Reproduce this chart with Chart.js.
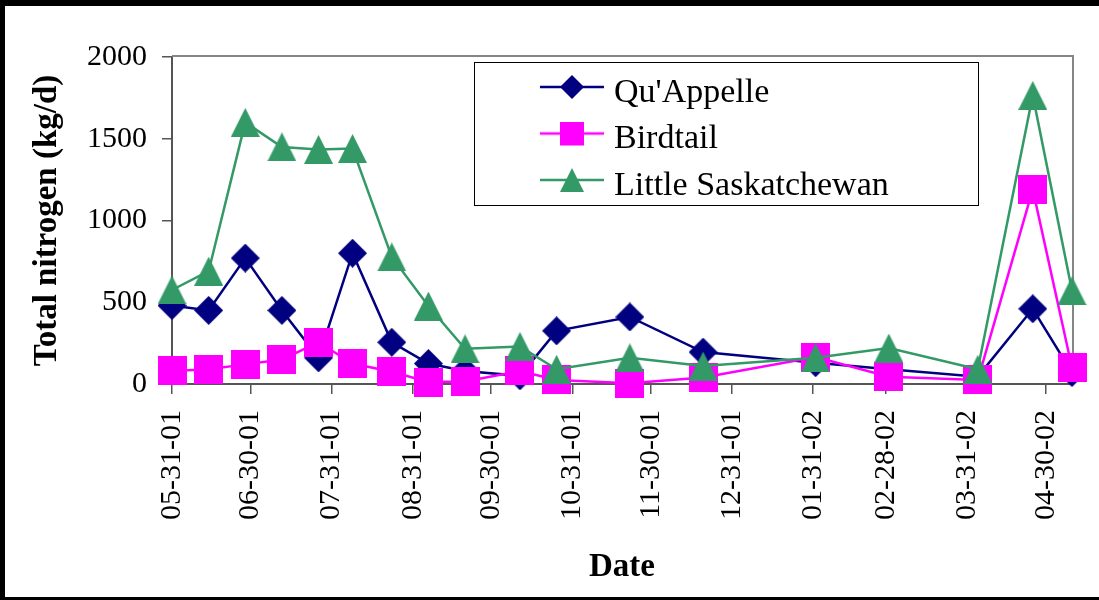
<!DOCTYPE html>
<html>
<head>
<meta charset="utf-8">
<script src="https://cdn.jsdelivr.net/npm/chart.js@4.4.0/dist/chart.umd.min.js"></script>
<style>
html, body { margin: 0; padding: 0; background: #fff; }
#wrap { position: relative; width: 1099px; height: 600px; }
#frame { position: absolute; left: 0; top: 0; width: 1099px; height: 600px; box-sizing: border-box;
         border-style: solid; border-color: #000; border-width: 6px 0 3px 5px; pointer-events: none; }
</style>
</head>
<body>
<div id="wrap">
  <canvas id="chart" width="1099" height="600"></canvas>
  <div id="frame"></div>
</div>
<script>
// sampling dates (mm-dd-yy)
var sampleDates = ["05-31-01","06-14-01","06-28-01","07-12-01","07-26-01","08-08-01","08-23-01",
                   "09-06-01","09-20-01","10-11-01","10-25-01","11-22-01","12-20-01","02-01-02",
                   "03-01-02","04-04-02","04-25-02","05-10-02"];

// total nitrogen, kg/d
var quAppelle  = [480, 450, 770, 450, 160, 800, 255, 125, 80, 50, 325, 410, 195, 130, 90, 45, 460, 70];
var birdtail   = [80, 90, 120, 150, 255, 125, 75, 12, 15, 80, 25, 5, 40, 165, 45, 25, 1190, 100];
var littleSask = [575, 690, 1600, 1450, 1435, 1440, 777, 477, 215, 230, 90, 160, 110, 160, 220, 90, 1765, 570];

var seriesNames = ["Qu'Appelle", "Birdtail", "Little Saskatchewan"];

// date axis tick labels (month ends)
var tickLabels = ["05-31-01","06-30-01","07-31-01","08-31-01","09-30-01","10-31-01","11-30-01",
                  "12-31-01","01-31-02","02-28-02","03-31-02","04-30-02"];

var yTicks = [0, 500, 1000, 1500, 2000];

var SERIF = "'Liberation Serif', 'Times New Roman', serif";

function dayNumber(s){
	var p = s.split("-");
	return Date.UTC(2000 + parseInt(p[2], 10), parseInt(p[0], 10) - 1, parseInt(p[1], 10)) / 86400000;
}
var firstDay = dayNumber(sampleDates[0]);
function dayOf(s){ return dayNumber(s) - firstDay; }

var tickDays = tickLabels.map(dayOf);

function points(values){
	var out = [];
	for (var i = 0; i < values.length; i++) {
		out.push({x: dayOf(sampleDates[i]), y: values[i]});
	}
	return out;
}

// marker images; for the legend a line runs through the marker and
// extra room below lifts the marker a little above the text middle
function makeMarker(shape, color, size, lineLen, below){
	var w = Math.max(size, lineLen || 0);
	var c = document.createElement("canvas");
	c.width = w; c.height = size + (below || 0);
	var g = c.getContext("2d");
	var cx = w / 2, cy = size / 2, h = size / 2;
	if (lineLen) {
		g.strokeStyle = color; g.lineWidth = 2.5;
		g.beginPath(); g.moveTo(0, cy); g.lineTo(w, cy); g.stroke();
	}
	g.fillStyle = color;
	g.beginPath();
	if (shape == "diamond") {
		g.moveTo(cx, 0); g.lineTo(cx + h, cy); g.lineTo(cx, size); g.lineTo(cx - h, cy);
	} else if (shape == "square") {
		g.rect(cx - h, 0, size, size);
	} else {
		g.moveTo(cx, 0); g.lineTo(cx + h, size); g.lineTo(cx - h, size);
	}
	g.closePath();
	g.fill();
	return c;
}

var colors = ["#000080", "#FF00FF", "#339966"];
var shapes = ["diamond", "square", "triangle"];
var plotMarks = [], legendMarks = [];
for (var k = 0; k < 3; k++) {
	plotMarks.push(makeMarker(shapes[k], colors[k], 29, 0, 0));
	legendMarks.push(makeMarker(shapes[k], colors[k], 24, 64, 12));
}

var framePlugin = {
	id: "frame",
	afterLayout: function(chart){
		// legend sits inside the plot area, upper right
		var lg = chart.legend;
		lg.left = 534.5; lg.top = 63.5; lg.width = 440; lg.height = 200;
		lg.right = lg.left + lg.width; lg.bottom = lg.top + lg.height;
	},
	beforeDraw: function(chart){
		var ctx = chart.ctx;
		ctx.save();
		ctx.fillStyle = "#fff";
		ctx.fillRect(474.5, 62.5, 504, 143);
		ctx.strokeStyle = "#000";
		ctx.lineWidth = 1;
		ctx.strokeRect(474.5, 62.5, 504, 143);
		ctx.restore();
	},
	beforeDatasetsDraw: function(chart){
		var a = chart.chartArea, ctx = chart.ctx;
		ctx.save();
		ctx.strokeStyle = "#868686";
		ctx.lineWidth = 2;
		ctx.beginPath();
		ctx.moveTo(a.left, a.top - 1);
		ctx.lineTo(a.right + 1, a.top - 1);
		ctx.lineTo(a.right + 1, a.bottom);
		ctx.stroke();
		ctx.restore();
	}
};

var datasets = [];
var seriesValues = [quAppelle, birdtail, littleSask];
for (var s = 0; s < 3; s++) {
	datasets.push({
		label: seriesNames[s],
		data: points(seriesValues[s]),
		borderColor: colors[s],
		backgroundColor: colors[s],
		borderWidth: 2.5,
		tension: 0,
		pointStyle: plotMarks[s],
		pointRadius: 15,
		pointHoverRadius: 15,
		order: 3 - s,
		clip: false
	});
}

var ctx = document.getElementById("chart").getContext("2d");
var myChart = new Chart(ctx, {
	type: "line",
	data: { datasets: datasets },
	plugins: [framePlugin],
	options: {
		responsive: false,
		animation: false,
		devicePixelRatio: 1,
		layout: { padding: { left: 0, top: 57, right: 27, bottom: 0 } },
		plugins: {
			tooltip: { enabled: false },
			legend: {
				position: "chartArea",
				align: "start",
				labels: {
					usePointStyle: true,
					pointStyleWidth: 50,
					padding: 12.5,
					color: "#000",
					font: { family: SERIF, size: 34 },
					generateLabels: function(chart){
						return chart.data.datasets.map(function(ds, i){
							return { text: ds.label, pointStyle: legendMarks[i], datasetIndex: i,
							         hidden: !chart.isDatasetVisible(i), fontColor: "#000",
							         lineWidth: 0, strokeStyle: "rgba(0,0,0,0)", fillStyle: "rgba(0,0,0,0)" };
						});
					}
				}
			}
		},
		scales: {
			x: {
				type: "linear",
				min: 0,
				max: dayOf(sampleDates[sampleDates.length - 1]),
				afterBuildTicks: function(scale){
					scale.ticks = tickDays.map(function(v){ return {value: v}; });
				},
				afterFit: function(scale){ scale.height = 216; },
				ticks: {
					autoSkip: false,
					minRotation: 90,
					maxRotation: 90,
					padding: 16,
					color: "#000",
					font: { family: SERIF, size: 30 },
					callback: function(v){ return tickLabels[tickDays.indexOf(v)]; }
				},
				grid: { drawOnChartArea: false, drawTicks: true, tickLength: 10, color: "#555", lineWidth: 1.5 },
				border: { display: true, color: "#555", width: 2 },
				title: {
					display: true,
					text: "Date",
					color: "#000",
					font: { family: SERIF, size: 33, weight: "bold", lineHeight: 1 },
					padding: { top: 0, bottom: 16.5 }
				}
			},
			y: {
				min: 0,
				max: 2000,
				afterBuildTicks: function(scale){
					scale.ticks = yTicks.map(function(v){ return {value: v}; });
				},
				afterFit: function(scale){ scale.width = 172; },
				ticks: {
					padding: 15,
					color: "#000",
					font: { family: SERIF, size: 30 },
					callback: function(v){ return String(v); }
				},
				grid: { drawOnChartArea: false, drawTicks: true, tickLength: 10, color: "#555", lineWidth: 1.5 },
				border: { display: true, color: "#555", width: 2 },
				title: {
					display: true,
					text: "Total nitrogen (kg/d)",
					color: "#000",
					font: { family: SERIF, size: 33, weight: "bold", lineHeight: 1 },
					padding: { top: 30.5, bottom: 0 }
				}
			}
		}
	}
});
</script>
</body>
</html>
